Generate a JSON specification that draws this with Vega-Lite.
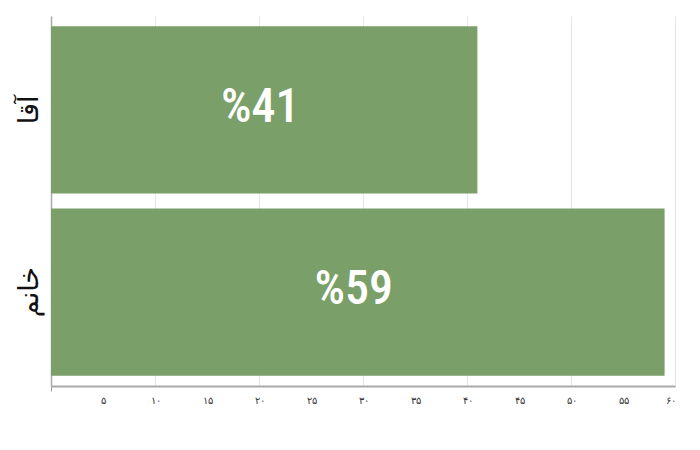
{
  "$schema": "https://vega.github.io/schema/vega-lite/v6.json",
  "width": 624,
  "height": 370,
  "autosize": {"type": "none"},
  "padding": {"left": 51, "top": 16, "right": 25, "bottom": 64},
  "background": "white",
  "config": {"view": {"stroke": null}},
  "data": {
    "values": [
      {"gender": "آقا", "value": 41, "label": "%41"},
      {"gender": "خانم", "value": 59, "label": "%59"}
    ]
  },
  "transform": [{"calculate": "datum.value / 2", "as": "mid"}],
  "encoding": {
    "y": {
      "field": "gender",
      "type": "nominal",
      "sort": ["آقا", "خانم"],
      "scale": {"paddingInner": 0.082, "paddingOuter": 0.056},
      "axis": {
        "title": null,
        "labelAngle": -90,
        "labelFontSize": 27,
        "labelFont": "Noto Sans, DejaVu Sans",
        "labelColor": "#111",
        "labelPadding": 8,
        "ticks": false,
        "domainColor": "#aaa",
        "domainWidth": 1.5
      }
    }
  },
  "layer": [
    {
      "mark": {"type": "bar", "color": "#7a9f68"},
      "encoding": {
        "x": {
          "field": "value",
          "type": "quantitative",
          "scale": {"domain": [0, 60], "nice": false},
          "axis": {
            "title": null,
            "values": [0, 5, 10, 15, 20, 25, 30, 35, 40, 45, 50, 55, 60],
            "labelExpr": "datum.value === 0 ? '' : replace(replace(replace(replace(replace(replace(replace(datum.label, regexp('0','g'), '۰'), regexp('1','g'), '۱'), regexp('2','g'), '۲'), regexp('3','g'), '۳'), regexp('4','g'), '۴'), regexp('5','g'), '۵'), regexp('6','g'), '۶')",
            "labelFontSize": 10,
            "labelColor": "#333",
            "labelPadding": 4,
            "ticks": true,
            "tickSize": 5,
            "tickColor": "#999",
            "tickOpacity": {"condition": {"test": "datum.value === 0", "value": 1}, "value": 0},
            "domainColor": "#aaa",
            "domainWidth": 2,
            "grid": true,
            "gridColor": "#e6e6e6",
            "gridOpacity": {"condition": {"test": "datum.value % 10 === 0", "value": 1}, "value": 0}
          }
        }
      }
    },
    {
      "mark": {"type": "text", "color": "white", "fontSize": 48, "font": "'Roboto Condensed', 'Open Sans Condensed', 'DejaVu Sans Condensed'", "fontWeight": 500, "align": "center", "baseline": "middle", "dx": -4, "dy": -2},
      "encoding": {
        "x": {"field": "mid", "type": "quantitative"},
        "text": {"field": "label"}
      }
    }
  ]
}
